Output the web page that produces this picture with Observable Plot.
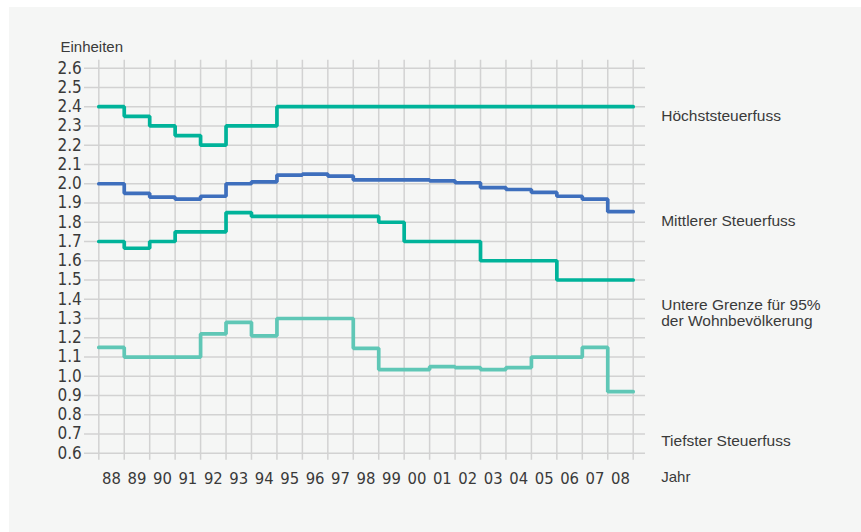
<!DOCTYPE html>
<html><head><meta charset="utf-8">
<script src="https://cdn.jsdelivr.net/npm/d3@7"></script>
<script src="https://cdn.jsdelivr.net/npm/@observablehq/plot@0.6"></script>
<style>
html,body{margin:0;padding:0;background:#ffffff;}
#chart{position:absolute;left:9px;top:7px;width:852px;height:525px;background:#f5f6f5;}
#chart g[aria-label="y-axis tick label"] text, #chart g[aria-label="x-axis tick label"] text{font-family:'Liberation Sans Narrow','Arial Narrow','DejaVu Sans Condensed',sans-serif;}
</style></head><body><div id="chart"></div>
<script>
// ---- data ----
const years = [1988,1989,1990,1991,1992,1993,1994,1995,1996,1997,1998,1999,2000,2001,2002,2003,2004,2005,2006,2007,2008];
const yearLabels = ["88","89","90","91","92","93","94","95","96","97","98","99","00","01","02","03","04","05","06","07","08"];
const hoechst = [2.40,2.35,2.30,2.25,2.20,2.30,2.30,2.40,2.40,2.40,2.40,2.40,2.40,2.40,2.40,2.40,2.40,2.40,2.40,2.40,2.40];
const mittel  = [2.00,1.95,1.93,1.92,1.935,2.00,2.01,2.045,2.05,2.04,2.02,2.02,2.02,2.015,2.005,1.98,1.97,1.955,1.935,1.92,1.855];
const untere  = [1.70,1.665,1.70,1.75,1.75,1.85,1.83,1.83,1.83,1.83,1.83,1.80,1.70,1.70,1.70,1.60,1.60,1.60,1.50,1.50,1.50];
const tiefst  = [1.15,1.10,1.10,1.10,1.22,1.28,1.21,1.30,1.30,1.30,1.145,1.035,1.035,1.05,1.045,1.035,1.045,1.10,1.10,1.15,0.92];
const yTicks = [0.6,0.7,0.8,0.9,1.0,1.1,1.2,1.3,1.4,1.5,1.6,1.7,1.8,1.9,2.0,2.1,2.2,2.3,2.4,2.5,2.6];
const seriesLabels = ["Höchststeuerfuss","Mittlerer Steuerfuss","Untere Grenze für 95%\nder Wohnbevölkerung","Tiefster Steuerfuss"];
const labelY = [2.354, 1.809, 1.331, 0.666];
const yAxisTitle = "Einheiten";
const xAxisTitle = "Jahr";

const endYear = years[years.length - 1] + 1;
function steps(vals) {
  const rows = years.map((yr, i) => ({x: yr, y: vals[i]}));
  rows.push({x: endYear, y: vals[vals.length - 1]});
  return rows;
}
const gridX = years.concat([endYear]);

const teal = "#00b39a", blue = "#3e6fbd", light = "#5fc7b6";
const font = "'Liberation Sans', Arial, sans-serif";

const chart = Plot.plot({
  width: 852,
  height: 525,
  marginLeft: 89.3,
  marginRight: 228.3,
  marginTop: 60.7,
  marginBottom: 79.2,
  style: {fontFamily: font, fontSize: "15px", background: "transparent", color: "#3a3a3a", overflow: "visible"},
  x: {domain: [1988, endYear]},
  y: {domain: [0.6, 2.6]},
  marks: [
    Plot.ruleY(yTicks, {stroke: "#d2d2d2", strokeWidth: 1.5, insetLeft: -14.3, insetRight: -12.3}),
    Plot.ruleX(gridX, {stroke: "#d2d2d2", strokeWidth: 1.5, insetTop: -8, insetBottom: -7}),
    Plot.axisY({ticks: yTicks, tickFormat: d3.format(".1f"), tickSize: 0, tickPadding: 17, label: null, fontSize: 17}),
    Plot.axisX({ticks: years.map(y => y + 0.5), tickFormat: d => yearLabels[Math.round(d - 0.5) - 1988], tickSize: 0, tickPadding: 19, label: null, fontSize: 16.5}),
    Plot.line(steps(tiefst), {x: "x", y: "y", curve: "step-after", stroke: light, strokeWidth: 3.7, strokeLinejoin: "miter"}),
    Plot.line(steps(untere), {x: "x", y: "y", curve: "step-after", stroke: teal, strokeWidth: 3.7, strokeLinejoin: "miter"}),
    Plot.line(steps(mittel), {x: "x", y: "y", curve: "step-after", stroke: blue, strokeWidth: 3.7, strokeLinejoin: "miter"}),
    Plot.line(steps(hoechst), {x: "x", y: "y", curve: "step-after", stroke: teal, strokeWidth: 3.7, strokeLinejoin: "miter"}),
    Plot.text(seriesLabels, {y: (d, i) => labelY[i], text: d => d, frameAnchor: "right", textAnchor: "start", dx: 28, lineHeight: 1.07, fontSize: 15.5}),
    Plot.text([yAxisTitle], {frameAnchor: "top-left", textAnchor: "start", dx: -38.3, dy: -27}),
    Plot.text([xAxisTitle], {frameAnchor: "bottom-right", textAnchor: "start", dx: 28, dy: 29})
  ]
});
document.getElementById("chart").appendChild(chart);
</script></body></html>
